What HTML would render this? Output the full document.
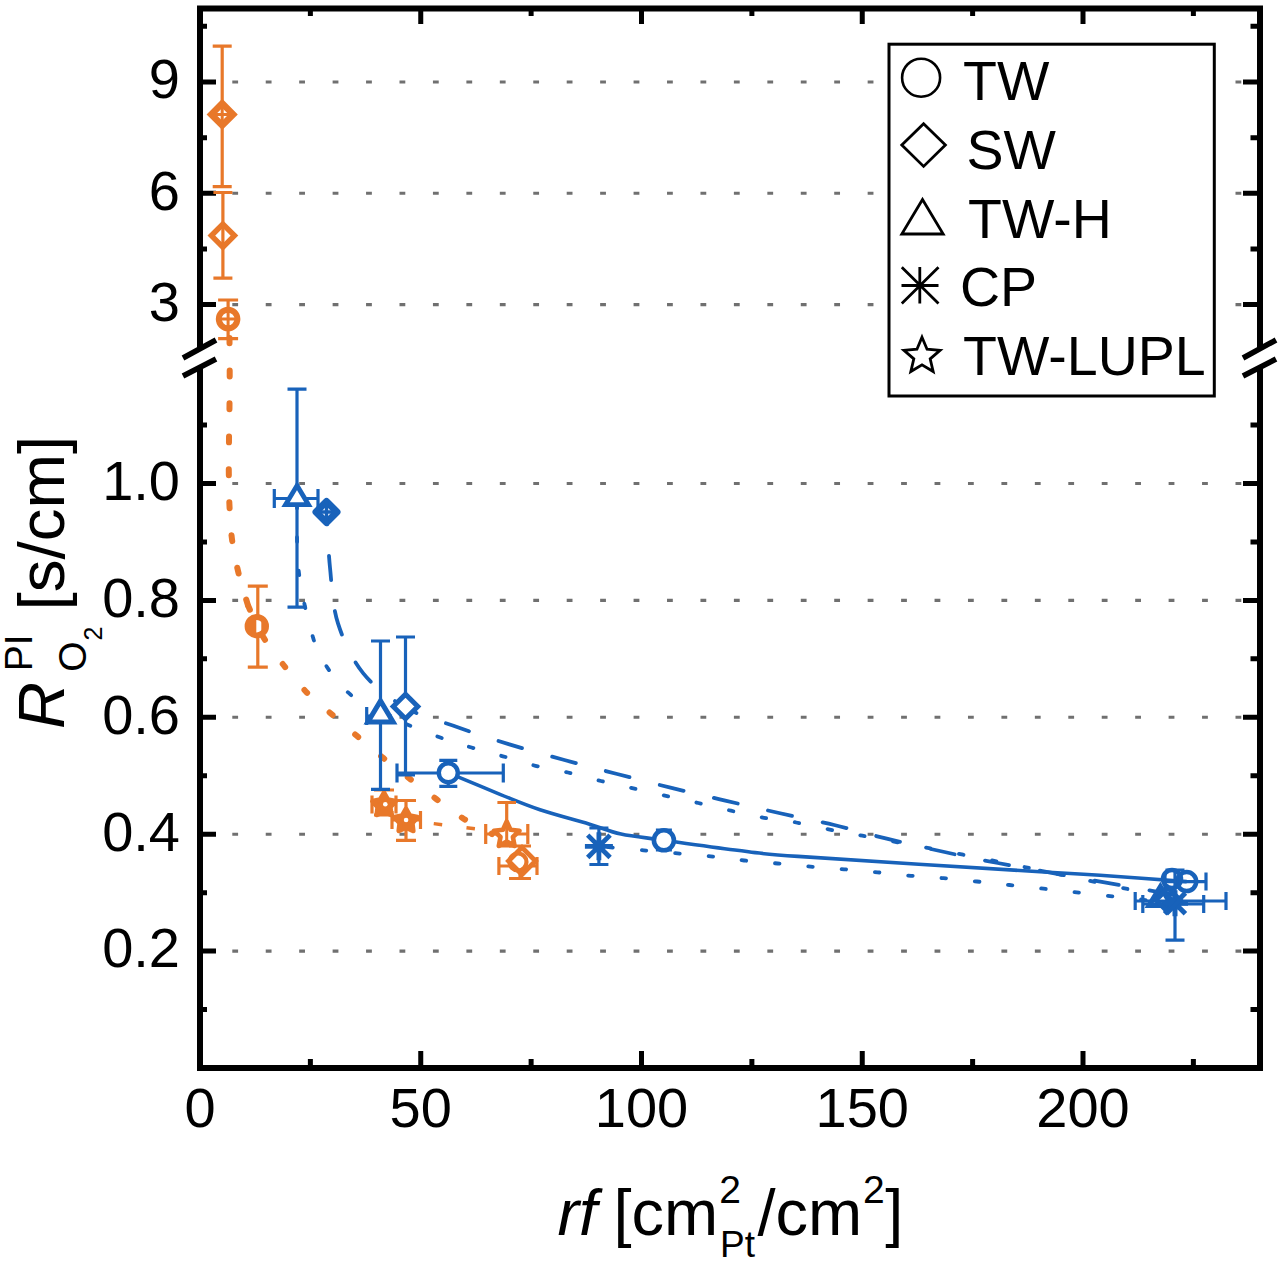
<!DOCTYPE html>
<html><head><meta charset="utf-8"><style>
html,body{margin:0;padding:0;background:#fff;width:1280px;height:1262px;overflow:hidden}
svg{display:block}
text{font-family:"Liberation Sans",sans-serif;fill:#000}
</style></head><body><svg width="1280" height="1262" viewBox="0 0 1280 1262" font-family="Liberation Sans, sans-serif"><path d="M232.3 82H1258M232.3 193.3H1258M232.3 304.6H1258M232.3 483.5H1258M232.3 600.4H1258M232.3 717.3H1258M232.3 834.2H1258M232.3 951.1H1258" stroke="#707070" stroke-width="3.1" stroke-dasharray="5.8 27.64" fill="none"/><path d="M200 8.6H1260M200 1068H1260M200 8.6V346.5M200 369V1068M1260 8.6V346.5M1260 369V1068" stroke="#000" stroke-width="6" fill="none" stroke-linecap="square"/><path d="M183 358L216 340M183 376L216 359M1243 358L1276 340M1243 376L1276 359" stroke="#000" stroke-width="5.5" fill="none"/><path d="M200 82H216M1260 82H1243M200 193.3H216M1260 193.3H1243M200 304.6H216M1260 304.6H1243M200 483.5H216M1260 483.5H1243M200 600.4H216M1260 600.4H1243M200 717.3H216M1260 717.3H1243M200 834.2H216M1260 834.2H1243M200 951.1H216M1260 951.1H1243M200 26.35H207M1260 26.35H1250.5M200 137.65H207M1260 137.65H1250.5M200 248.95H207M1260 248.95H1250.5M200 425.05H207M1260 425.05H1250.5M200 541.95H207M1260 541.95H1250.5M200 658.85H207M1260 658.85H1250.5M200 775.75H207M1260 775.75H1250.5M200 892.65H207M1260 892.65H1250.5M200 1009.55H207M1260 1009.55H1250.5M200 1068V1051M200 8.6V24M420.75 1068V1051M420.75 8.6V24M641.5 1068V1051M641.5 8.6V24M862.25 1068V1051M862.25 8.6V24M1083 1068V1051M1083 8.6V24M310.38 1068V1059M310.38 8.6V16M531.12 1068V1059M531.12 8.6V16M751.88 1068V1059M751.88 8.6V16M972.62 1068V1059M972.62 8.6V16M1193.38 1068V1059M1193.38 8.6V16" stroke="#000" stroke-width="5" fill="none"/><text x="180" y="98.3" text-anchor="end" font-size="56">9</text><text x="180" y="209.6" text-anchor="end" font-size="56">6</text><text x="180" y="320.9" text-anchor="end" font-size="56">3</text><text x="180" y="499.8" text-anchor="end" font-size="56">1.0</text><text x="180" y="616.7" text-anchor="end" font-size="56">0.8</text><text x="180" y="733.6" text-anchor="end" font-size="56">0.6</text><text x="180" y="850.5" text-anchor="end" font-size="56">0.4</text><text x="180" y="967.4" text-anchor="end" font-size="56">0.2</text><text x="200" y="1127.3" text-anchor="middle" font-size="56">0</text><text x="420.75" y="1127.3" text-anchor="middle" font-size="56">50</text><text x="641.5" y="1127.3" text-anchor="middle" font-size="56">100</text><text x="862.25" y="1127.3" text-anchor="middle" font-size="56">150</text><text x="1083" y="1127.3" text-anchor="middle" font-size="56">200</text><text x="557.4" y="1234.8" font-size="65" font-style="italic">rf</text><text x="613.5" y="1234.8" font-size="65">[cm</text><text x="719.3" y="1202.5" font-size="39">2</text><text x="720" y="1256.5" font-size="37">Pt</text><text x="757.4" y="1234.8" font-size="65">/cm</text><text x="862.9" y="1202.5" font-size="39">2</text><text x="885.2" y="1234.8" font-size="65">]</text><g transform="translate(64 729) rotate(-90)"><text x="0" y="0" font-size="65" font-style="italic">R</text><text x="57.7" y="-31.6" font-size="39">PI</text><text x="57.3" y="22.3" font-size="39">O</text><text x="88.4" y="37.7" font-size="25">2</text><text x="118.6" y="0" font-size="65.5">[s/cm]</text></g><path d="M229.5 338.0C229.5 343.9 229.7 362.1 229.7 373.3C229.7 384.5 229.6 394.3 229.5 405.4C229.4 416.5 229.1 428.7 229.0 439.8C228.9 450.9 228.7 461.3 228.8 472.0C228.9 482.7 228.9 492.9 229.4 504.0C229.9 515.1 230.4 527.0 231.9 538.5C233.4 550.0 235.8 561.8 238.5 573.0C241.2 584.2 246.5 600.2 248.1 605.7" stroke="#E8782A" stroke-width="6" stroke-linecap="round" stroke-dasharray="6 27" stroke-dashoffset="0.7" fill="none"/><path d="M248.1 605.7C250.4 610.6 256.1 625.1 262.0 635.0C267.9 644.9 276.0 655.4 283.5 665.0C291.0 674.6 299.0 684.5 307.1 692.8C315.2 701.0 323.7 707.3 332.0 714.5C340.3 721.7 348.2 728.5 356.8 735.8C365.4 743.1 374.8 751.1 383.8 758.4C392.8 765.7 402.3 772.9 411.0 779.7C419.7 786.5 427.6 792.6 436.2 799.0C444.8 805.4 453.5 812.4 462.8 818.2C472.1 824.0 487.1 831.4 492.0 834.0" stroke="#E8782A" stroke-width="6" stroke-linecap="round" stroke-dasharray="4 29.8" stroke-dashoffset="-0.5" fill="none"/><path d="M401 819.5L500 832" stroke="#E8782A" stroke-width="3.5" stroke-dasharray="8.5 24.5" fill="none"/><path d="M448.3 772.8C456.9 776.4 484.7 788.1 500.0 794.3C515.3 800.4 525.2 804.8 540.0 809.7C554.8 814.6 575.3 819.9 588.8 823.9C602.3 827.9 608.5 831.3 621.0 834.0C633.5 836.7 644.9 837.5 663.9 840.2C682.9 842.9 712.6 847.3 735.0 850.0C757.4 852.7 747.2 852.8 798.0 856.4C848.8 860.0 989.7 868.6 1040.0 871.7C1090.3 874.8 1075.5 873.6 1100.0 875.2C1124.5 876.9 1172.2 880.5 1186.7 881.6" stroke="#1862BA" stroke-width="3.6" fill="none"/><path d="M326.5 511.2C327.1 520.6 328.1 548.9 330.0 567.6C331.9 586.3 332.4 605.8 338.0 623.4C343.6 641.0 352.1 659.4 363.3 673.4C374.6 687.4 389.9 698.6 405.5 707.5C421.1 716.4 439.7 720.9 457.0 727.0C474.3 733.1 491.5 738.9 509.4 744.4C527.3 749.9 546.4 755.1 564.4 760.0C582.4 764.9 599.4 769.4 617.2 774.0C635.1 778.6 653.5 783.5 671.5 787.9C689.5 792.3 707.4 796.4 725.3 800.6C743.2 804.8 760.8 808.9 779.0 813.0C797.2 817.1 816.3 820.7 834.3 825.0C852.2 829.3 868.3 834.2 886.7 838.7C905.1 843.2 926.0 848.0 944.5 852.0C963.0 856.0 959.4 855.8 997.8 863.0C1036.2 870.2 1145.5 889.7 1175.0 895.0" stroke="#1862BA" stroke-width="3.8" stroke-linecap="round" stroke-dasharray="24.5 31.17" stroke-dashoffset="11.1" fill="none"/><path d="M297.0 496.0C297.3 508.3 296.0 546.5 298.6 570.0C301.2 593.5 308.0 620.4 312.8 636.8C317.6 653.1 321.4 658.4 327.7 668.1C334.0 677.8 341.9 687.3 350.7 694.8C359.5 702.3 365.8 706.0 380.5 713.0C395.2 720.0 423.7 731.2 438.9 737.0C454.1 742.8 460.8 744.3 471.5 747.5C482.2 750.7 492.2 753.2 502.9 756.3C513.6 759.3 524.6 763.1 535.5 765.8C546.4 768.5 557.1 770.0 568.0 772.5C578.9 775.0 590.0 778.4 600.9 781.0C611.8 783.6 622.5 785.9 633.4 788.4C644.2 790.9 655.2 793.5 666.0 795.9C676.8 798.3 687.6 800.5 698.4 803.0C709.2 805.5 720.1 808.2 731.0 810.7C741.9 813.2 753.1 815.8 764.0 817.8C774.9 819.8 785.2 820.5 796.2 822.5C807.2 824.5 818.8 827.4 829.8 829.6C840.8 831.8 833.9 830.3 862.3 835.7C890.7 841.1 950.4 852.0 1000.0 862.0C1049.6 872.0 1133.3 890.3 1160.0 896.0" stroke="#1862BA" stroke-width="3.8" stroke-linecap="round" stroke-dasharray="4.5 28.96" stroke-dashoffset="25.62" fill="none"/><path d="M598.9 846.3C606.4 847.0 625.0 848.6 643.6 850.3C662.2 852.0 693.9 854.7 710.6 856.4C727.4 858.1 732.9 859.3 744.1 860.5C755.3 861.7 766.6 862.5 777.7 863.5C788.8 864.5 799.5 865.6 810.5 866.6C821.5 867.6 832.8 868.3 844.0 869.3C855.2 870.2 866.3 871.2 877.5 872.3C888.7 873.4 900.0 874.8 911.0 875.8C922.0 876.8 932.5 877.2 943.5 878.2C954.5 879.2 966.0 880.4 977.0 881.5C988.0 882.6 976.5 881.4 1009.5 885.0C1042.5 888.6 1147.4 900.2 1175.0 903.3" stroke="#1862BA" stroke-width="3.8" stroke-linecap="round" stroke-dasharray="4.5 28.94" stroke-dashoffset="23.72" fill="none"/><path d="M222.2 46.1V186.6M212.7 46.1H231.7M212.7 186.6H231.7" stroke="#E8782A" stroke-width="3.2" fill="none"/><path d="M222.2 103.4L233.2 114.4L222.2 125.4L211.2 114.4Z" stroke="#E8782A" stroke-width="6.5" fill="#fff"/><path d="M213 114.4H231.4M222.2 104V125" stroke="#E8782A" stroke-width="3"/><path d="M222.9 192.5V278.2M213.4 192.5H232.4M213.4 278.2H232.4" stroke="#E8782A" stroke-width="3.2" fill="none"/><path d="M222.9 224.1L234.4 235.6L222.9 247.1L211.4 235.6Z" stroke="#E8782A" stroke-width="5.5" fill="#fff"/><path d="M222.9 224V247" stroke="#E8782A" stroke-width="3.2"/><path d="M228.1 300.0V338.6M218.1 300.0H238.1M218.1 338.6H238.1" stroke="#E8782A" stroke-width="3.2" fill="none"/><circle cx="228.1" cy="319.0" r="9.3" stroke="#E8782A" stroke-width="6" fill="#fff"/><path d="M219 319H237M228.1 310V328" stroke="#E8782A" stroke-width="3"/><path d="M257.8 586.1V667.2M247.8 586.1H267.8M247.8 667.2H267.8" stroke="#E8782A" stroke-width="3.2" fill="none"/><circle cx="256.8" cy="626.2" r="9.2" stroke="#E8782A" stroke-width="6" fill="#fff"/><path d="M250 619H256.3V633H250ZM261.3 619H264V633H261.3Z" fill="#E8782A"/><path d="M384.0 790.0V815.0M374.0 790.0H394.0M374.0 815.0H394.0" stroke="#E8782A" stroke-width="3.2" fill="none"/><path d="M372.0 804.4H396.0M372.0 795.4V813.4M396.0 795.4V813.4" stroke="#E8782A" stroke-width="3.2" fill="none"/><path d="M384.0 793.0L387.8 799.7L395.4 801.3L390.2 807.0L391.1 814.7L384.0 811.5L376.9 814.7L377.8 807.0L372.6 801.3L380.2 799.7Z" stroke="#E8782A" stroke-width="5" fill="#E8782A" stroke-linejoin="round"/><circle cx="385.3" cy="804.3" r="2.3" fill="#fff"/><path d="M406.0 800.5V840.3M396.0 800.5H416.0M396.0 840.3H416.0" stroke="#E8782A" stroke-width="3.2" fill="none"/><path d="M392.0 820.0H420.5M392.0 811.0V829.0M420.5 811.0V829.0" stroke="#E8782A" stroke-width="3.2" fill="none"/><path d="M406.0 809.0L409.8 815.7L417.4 817.3L412.2 823.0L413.1 830.7L406.0 827.5L398.9 830.7L399.8 823.0L394.6 817.3L402.2 815.7Z" stroke="#E8782A" stroke-width="5" fill="#E8782A" stroke-linejoin="round"/><circle cx="406.1" cy="820" r="2.3" fill="#fff"/><path d="M506.7 802.5V846.0M497.4 802.5H516.0M497.4 846.0H516.0" stroke="#E8782A" stroke-width="3.2" fill="none"/><path d="M485.7 834.0H527.8M485.7 824.0V844.0M527.8 824.0V844.0" stroke="#E8782A" stroke-width="3.2" fill="none"/><path d="M506.7 821.5L510.5 829.7L519.5 830.8L512.9 837.0L514.6 845.9L506.7 841.5L498.8 845.9L500.5 837.0L493.9 830.8L502.9 829.7Z" stroke="#E8782A" stroke-width="4.6" fill="#fff" stroke-linejoin="round"/><path d="M506.7 826V846" stroke="#E8782A" stroke-width="3"/><path d="M520.0 846.0V878.5M509.0 846.0H531.0M509.0 878.5H531.0" stroke="#E8782A" stroke-width="3.2" fill="none"/><path d="M498.9 866.0H537.0M498.9 857.0V875.0M537.0 857.0V875.0" stroke="#E8782A" stroke-width="3.2" fill="none"/><path d="M522.0 847.5L535.5 861.0L522.0 874.5L508.5 861.0Z" stroke="#E8782A" stroke-width="4.8" fill="#fff"/><circle cx="518.0" cy="862.0" r="8.5" stroke="#E8782A" stroke-width="4.2" fill="none"/><path d="M297.0 389.1V607.2M287.5 389.1H306.5M287.5 607.2H306.5" stroke="#1862BA" stroke-width="3.2" fill="none"/><path d="M274.3 498.5H318.0M274.3 489.0V508.0M318.0 489.0V508.0" stroke="#1862BA" stroke-width="3.2" fill="none"/><path d="M297.0 485.6L308.4 504.6H285.6Z" stroke="#1862BA" stroke-width="4.8" fill="#fff"/><path d="M326.5 501.5L337.0 512.0L326.5 522.5L316.0 512.0Z" stroke="#1862BA" stroke-width="7" fill="#fff" stroke-linejoin="round"/><path d="M315 512H338M326.5 501V523" stroke="#1862BA" stroke-width="3.4"/><path d="M380.5 641.0V789.4M371.0 641.0H390.0M371.0 789.4H390.0" stroke="#1862BA" stroke-width="3.2" fill="none"/><path d="M366.7 716H392M366.7 707V725" stroke="#1862BA" stroke-width="3.2" fill="none"/><path d="M380.5 700.9L393.1 721.9H367.9Z" stroke="#1862BA" stroke-width="5" fill="#fff"/><path d="M405.5 637.0V775.0M396.0 637.0H415.0M396.0 775.0H415.0" stroke="#1862BA" stroke-width="3.2" fill="none"/><path d="M405.5 694.2L417.8 706.5L405.5 718.8L393.2 706.5Z" stroke="#1862BA" stroke-width="5" fill="#fff"/><path d="M397.0 773.0H503.3M397.0 763.5V782.5M503.3 763.5V782.5" stroke="#1862BA" stroke-width="3.2" fill="none"/><path d="M448.3 760.4V786.3M439.3 760.4H457.3M439.3 786.3H457.3" stroke="#1862BA" stroke-width="3.2" fill="none"/><circle cx="448.3" cy="772.8" r="9.5" stroke="#1862BA" stroke-width="4.4" fill="#fff"/><path d="M598.9 828.0V864.5M589.4 828.0H608.4M589.4 864.5H608.4" stroke="#1862BA" stroke-width="3.2" fill="none"/><path d="M584.9 846.3H612.9M598.9 832.3V860.3M587.7 835.1L610.1 857.5M587.7 857.5L610.1 835.1" stroke="#1862BA" stroke-width="4.8" fill="none"/><path d="M663.9 830.0V850.0M655.9 830.0H671.9M655.9 850.0H671.9" stroke="#1862BA" stroke-width="3.2" fill="none"/><circle cx="663.9" cy="840.2" r="10.0" stroke="#1862BA" stroke-width="4.6" fill="#fff"/><path d="M1165.0 881.6H1206.0M1165.0 872.6V890.6M1206.0 872.6V890.6" stroke="#1862BA" stroke-width="3.2" fill="none"/><circle cx="1186.7" cy="881.6" r="9.5" stroke="#1862BA" stroke-width="4.5" fill="none"/><circle cx="1172.0" cy="879.0" r="9.0" stroke="#1862BA" stroke-width="4.5" fill="none"/><path d="M1135.2 901.0H1226.0M1135.2 892.0V910.0M1226.0 892.0V910.0" stroke="#1862BA" stroke-width="3.2" fill="none"/><path d="M1142.8 904.0H1203.7M1142.8 895.0V913.0M1203.7 895.0V913.0" stroke="#1862BA" stroke-width="3.2" fill="none"/><path d="M1175.0 870.0V940.2M1165.5 870.0H1184.5M1165.5 940.2H1184.5" stroke="#1862BA" stroke-width="3.2" fill="none"/><path d="M1160.4 886.6L1171.8 905.6H1149.0Z" stroke="#1862BA" stroke-width="5" fill="none"/><path d="M1162.0 903.3H1188.0M1175.0 890.3V916.3M1164.6 892.9L1185.4 913.7M1164.6 913.7L1185.4 892.9" stroke="#1862BA" stroke-width="5" fill="none"/><path d="M1168.0 888.0L1180.0 900.0L1168.0 912.0L1156.0 900.0Z" stroke="#1862BA" stroke-width="5" fill="none"/><rect x="889" y="44.2" width="325.3" height="351.8" fill="#fff" stroke="#000" stroke-width="3"/><circle cx="921.1" cy="77.7" r="19" fill="none" stroke="#000" stroke-width="2.6"/><path d="M923.6 123.8L945.4 145.1L923.6 166.4L901.8 145.1Z" fill="none" stroke="#000" stroke-width="2.8" stroke-linejoin="miter"/><path d="M922.5 199.5L943.2 234H901.8Z" fill="none" stroke="#000" stroke-width="2.8"/><path d="M901.5 285.5H938.5M919.8 267V303.5M901.8 267.3L938.5 303.5M901.8 303.5L938.5 267.3" fill="none" stroke="#000" stroke-width="2.8"/><path d="M922.00 337.20L927.05 349.24L940.07 350.33L930.18 358.86L933.17 371.57L922.00 364.80L910.83 371.57L913.82 358.86L903.93 350.33L916.95 349.24Z" fill="none" stroke="#000" stroke-width="2.8" stroke-linejoin="miter"/><text x="963" y="100.3" font-size="55.5">TW</text><text x="966.5" y="169.3" font-size="55.5">SW</text><text x="968" y="237.5" font-size="55.5">TW-H</text><text x="960" y="306.3" font-size="55.5">CP</text><text x="963" y="375.2" font-size="55.5">TW-LUPL</text></svg></body></html>
